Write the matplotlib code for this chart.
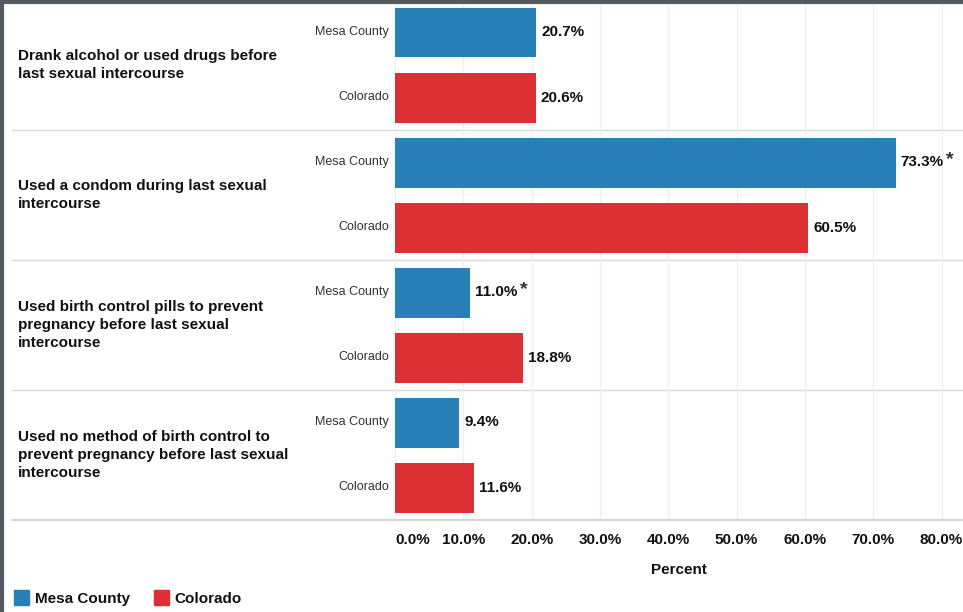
import matplotlib
matplotlib.use("Agg")
import matplotlib.pyplot as plt
from matplotlib.patches import Patch
from matplotlib.lines import Line2D
import numpy as np

plt.rcParams["font.family"] = ["Liberation Sans", "DejaVu Sans"]

questions = [
    "Drank alcohol or used drugs before\nlast sexual intercourse",
    "Used a condom during last sexual\nintercourse",
    "Used birth control pills to prevent\npregnancy before last sexual\nintercourse",
    "Used no method of birth control to\nprevent pregnancy before last sexual\nintercourse",
]
groups = ["Mesa County", "Colorado"]
mesa = [20.7, 73.3, 11.0, 9.4]
colorado = [20.6, 60.5, 18.8, 11.6]
mesa_flag = [False, True, True, False]
colorado_flag = [False, False, False, False]
xticks = [0, 10, 20, 30, 40, 50, 60, 70, 80]

BLUE = "#2980b9"
RED = "#dc3035"

fig = plt.figure(figsize=(9.63, 6.12), dpi=100)
ax = fig.add_axes([395 / 963, 1 - 520 / 612, 567 / 963, 520 / 612])

n = len(questions)
ymesa = np.arange(n) * 2 + 0.5
ycol = ymesa + 1
ax.barh(ymesa, mesa, height=50 / 65, color=BLUE, zorder=3)
ax.barh(ycol, colorado, height=50 / 65, color=RED, zorder=3)
ax.set_ylim(2 * n, 0)
ax.set_xlim(0, 83)

for vals, ys, flags in [(mesa, ymesa, mesa_flag), (colorado, ycol, colorado_flag)]:
    for v, y, f in zip(vals, ys, flags):
        ax.annotate(f"{v:.1f}%", (v, y), xytext=(5, 0), textcoords="offset pixels",
                    va="center", ha="left", fontsize=11, fontweight="bold", color="#111")
        if f:
            ax.annotate("*", (v, y), xytext=(50, 3), textcoords="offset pixels",
                        va="center", ha="left", fontsize=14, fontweight="bold", color="#333")

# group labels and sub labels
for i, q in enumerate(questions):
    ax.text(-383 / 567 * 83 + 0.9, 2 * i + 1, q, ha="left", va="center",
            fontsize=11, fontweight="bold", color="#111", linespacing=1.4)
    for y, g in zip([ymesa[i], ycol[i]], groups):
        ax.annotate(g, (0, y), xytext=(-6, 0), textcoords="offset pixels",
                    ha="right", va="center", fontsize=9, color="#333")
    if i > 0:
        ax.axhline(2 * i, xmin=-383 / 567, xmax=1, color="#d9d9d9", lw=1,
                   clip_on=False, zorder=1)
ax.axhline(2 * n, xmin=-383 / 567, xmax=1, color="#cccccc", lw=1.2,
           clip_on=False, zorder=4)

ax.set_yticks([])
ax.set_xticks(xticks)
ax.set_xticklabels([f"{t:.1f}%" for t in xticks], fontsize=11, fontweight="bold",
                   color="#111")
ax.get_xticklabels()[0].set_ha("left")
ax.tick_params(axis="x", length=0, pad=9)
ax.grid(axis="x", color="#efefef", lw=1, zorder=0)
for s in ax.spines.values():
    s.set_visible(False)
ax.set_xlabel("Percent", fontsize=11, fontweight="bold", color="#111", labelpad=12)

# frame on top and left
fig.add_artist(Line2D([0, 1], [1 - 1.5 / 612] * 2, color="#555a60", lw=3))
fig.add_artist(Line2D([1.5 / 963] * 2, [0, 1], color="#555a60", lw=3))

handles = [Patch(color=BLUE, label=groups[0]), Patch(color=RED, label=groups[1])]
leg = fig.legend(handles=handles, loc="lower left", bbox_to_anchor=(14 / 963, 6 / 612),
                 ncol=2, frameon=False, handlelength=1.0, handleheight=1.1,
                 handletextpad=0.35, columnspacing=1.6, borderpad=0, borderaxespad=0,
                 prop={"size": 11, "weight": "bold"})
for t in leg.get_texts():
    t.set_color("#111")

fig.savefig("out.png", dpi=100)
